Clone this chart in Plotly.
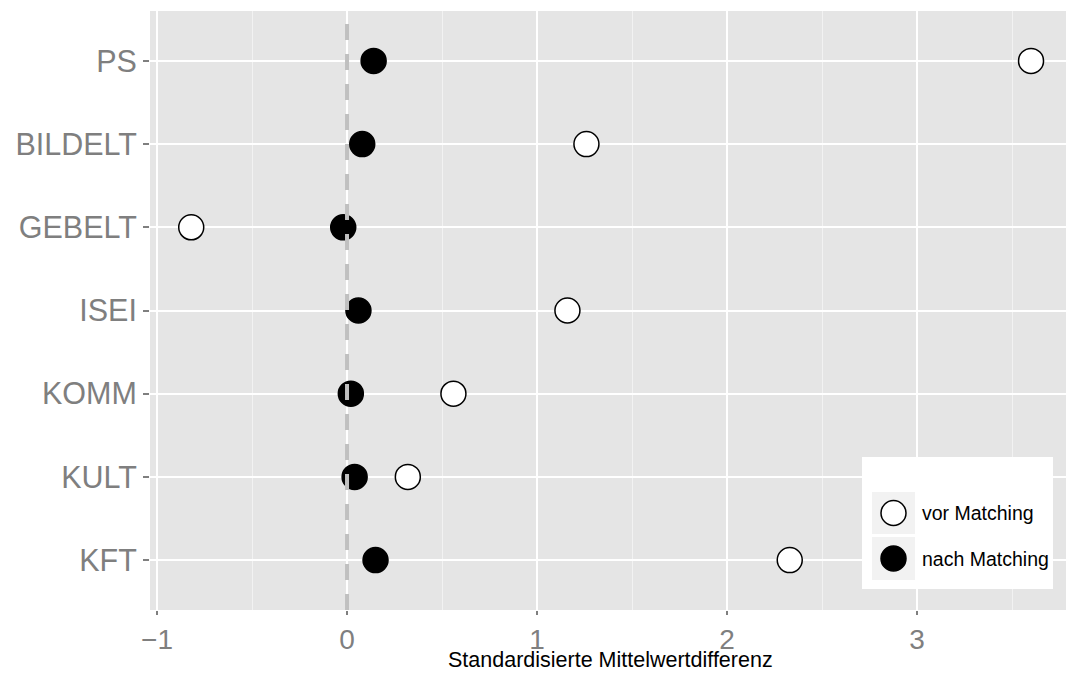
import plotly.graph_objects as go

# ---- data ----
categories = ["PS", "BILDELT", "GEBELT", "ISEI", "KOMM", "KULT", "KFT"]
vor_matching = [3.60, 1.26, -0.82, 1.16, 0.56, 0.32, 2.33]
nach_matching = [0.14, 0.08, -0.02, 0.06, 0.02, 0.04, 0.15]
x_ticks = [-1, 0, 1, 2, 3]
x_tick_labels = ["\u22121", "0", "1", "2", "3"]
series_names = ["vor Matching", "nach Matching"]
x_title = "Standardisierte Mittelwertdifferenz"

# ---- layout constants ----
W, H = 1066, 673
L, R, T, B = 150, 0, 11, 63
PW, PH = W - L - R, H - T - B
FONT = "Helvetica, Liberation Sans, Arial, sans-serif"
GRAY_TXT = "#7f7f7f"


def px(x):
    return (x - L) / PW


def py(y):
    return (H - B - y) / PH


fig = go.Figure()
fig.add_trace(go.Scatter(
    x=vor_matching, y=categories, mode="markers", name=series_names[0],
    marker=dict(size=25, color="white", line=dict(color="black", width=1.5)),
    showlegend=False))
fig.add_trace(go.Scatter(
    x=nach_matching, y=categories, mode="markers", name=series_names[1],
    marker=dict(size=25, color="black", line=dict(color="black", width=1.5)),
    showlegend=False))

shapes = []
# dashed reference line at 0
shapes.append(dict(type="line", xref="x", yref="paper", x0=0, x1=0, y0=0, y1=1,
                   line=dict(color="#c0c0c0", width=4, dash="16px,14px"), layer="above"))
# x-axis ticks drawn as short grey marks below the panel (ggplot look)
# manual legend (ggplot style: white box, grey key backgrounds, large symbols)
shapes.append(dict(type="rect", xref="paper", yref="paper",
                   x0=px(862), x1=px(1053), y0=py(589), y1=py(457),
                   fillcolor="white", line=dict(width=0), layer="above"))
key_rows = [(492, 534), (537, 580)]
fills = ["white", "black"]
annotations = []
for (ya, yb), fill, name in zip(key_rows, fills, series_names):
    shapes.append(dict(type="rect", xref="paper", yref="paper",
                       x0=px(872), x1=px(915), y0=py(yb), y1=py(ya),
                       fillcolor="#f2f2f2", line=dict(width=0), layer="above"))
    cy = (ya + yb) / 2
    shapes.append(dict(type="circle", xref="paper", yref="paper",
                       x0=px(893.5 - 12.5), x1=px(893.5 + 12.5),
                       y0=py(cy + 12.5), y1=py(cy - 12.5),
                       fillcolor=fill, line=dict(color="black", width=1.5), layer="above"))
    annotations.append(dict(xref="paper", yref="paper", x=px(920), y=py(cy),
                            xanchor="left", yanchor="middle", text=name, showarrow=False,
                            font=dict(family=FONT, size=19.5, color="black")))

# x-axis title as annotation placed in the bottom strip
annotations.append(dict(xref="paper", yref="paper", x=px(610), y=py(673),
                        xanchor="center", yanchor="bottom", text=x_title, showarrow=False,
                        borderpad=0,
                        font=dict(family=FONT, size=21.5, color="black")))

fig.update_layout(
    width=W, height=H,
    margin=dict(l=L, r=R, t=T, b=B, pad=0, autoexpand=False),
    paper_bgcolor="white", plot_bgcolor="#e5e5e5",
    showlegend=False,
    shapes=shapes, annotations=annotations,
    xaxis=dict(
        range=[-1.037, 3.784], tickvals=x_ticks, ticktext=x_tick_labels,
        showgrid=True, gridcolor="white", gridwidth=2, zeroline=False,
        minor=dict(dtick=0.5, tick0=0.5, showgrid=True, gridcolor="#f2f2f2", gridwidth=1, ticks=""),
        ticks="outside", ticklen=4, tickwidth=2, tickcolor=GRAY_TXT,
        tickfont=dict(family=FONT, size=28, color=GRAY_TXT),
        automargin=False,
        showline=False,
    ),
    yaxis=dict(
        type="category", categoryorder="array", categoryarray=categories[::-1],
        range=[-0.6, 6.6],
        showgrid=True, gridcolor="white", gridwidth=2, zeroline=False,
        ticks="outside", ticklen=6, tickwidth=2, tickcolor=GRAY_TXT,
        tickfont=dict(family=FONT, size=30.5, color=GRAY_TXT),
        automargin=False,
        showline=False,
    ),
)

fig.write_html("out.html")
